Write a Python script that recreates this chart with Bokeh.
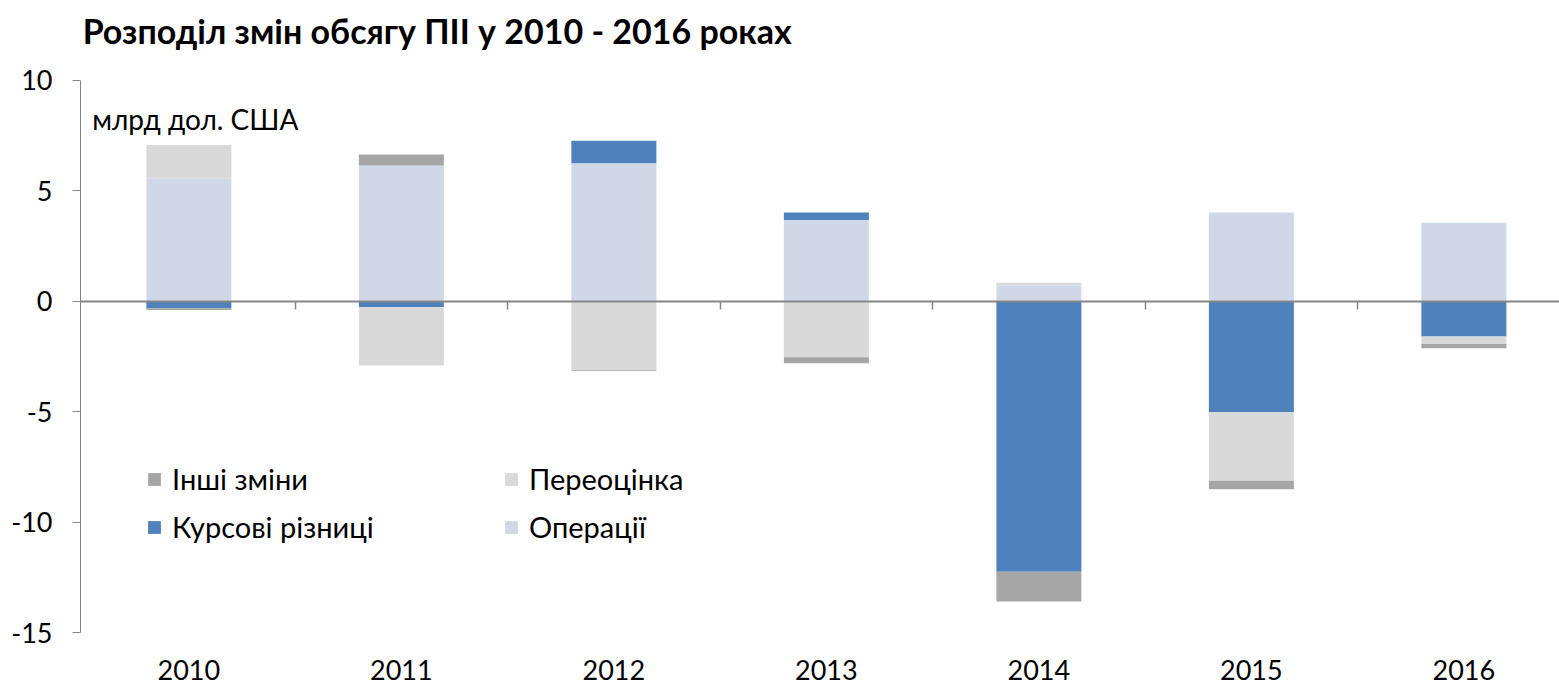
import numpy as np
from bokeh.plotting import figure
from bokeh.models import (Range1d, FixedTicker, LinearAxis, Legend, LegendItem,
                          Label, ColumnDataSource)
from bokeh.embed import file_html
from bokeh.resources import INLINE

# ---- data ----
years = ["2010", "2011", "2012", "2013", "2014", "2015", "2016"]
operations = [5.55, 6.15, 6.25, 3.68, 0.72, 4.02, 3.56]
fx_diff = [-0.32, -0.27, 1.02, 0.34, -12.25, -5.03, -1.60]
revaluation = [1.53, -2.64, -3.12, -2.54, 0.12, -3.10, -0.33]
other = [-0.07, 0.50, -0.04, -0.27, -1.35, -0.38, -0.20]

series_names = ["Операції", "Курсові різниці", "Переоцінка", "Інші зміни"]
series_values = [operations, fx_diff, revaluation, other]
colors = ["#D0D8E8", "#4F81BD", "#D9D9D9", "#A6A6A6"]
y_ticks = [-15, -10, -5, 0, 5, 10]
title_text = "Розподіл змін обсягу ПІІ у 2010 - 2016 роках"
unit_text = "млрд дол. США"

FONT = "Lato"
AXIS_COLOR = "#868686"

x = np.arange(len(years))

# frame spans the full canvas height down to the -15 line; the axis itself is
# bounded to [-15, 10] so the area above 10 holds the title.
p = figure(width=1559, height=685, output_backend="svg", toolbar_location=None,
           x_range=Range1d(-0.51, 6.45), y_range=Range1d(-15, 13.62),
           x_axis_location=None, y_axis_location=None,
           min_border_left=80, min_border_right=0, min_border_top=0,
           min_border_bottom=53)
p.outline_line_color = None
p.grid.visible = False

# stacked bars (positive and negative stacks separately)
pos_base = np.zeros(len(years))
neg_base = np.zeros(len(years))
renderers = {}
for name, vals, col in zip(series_names, series_values, colors):
    v = np.array(vals, dtype=float)
    bottom = np.where(v >= 0, pos_base, neg_base)
    top = bottom + v
    pos_base = np.where(v >= 0, top, pos_base)
    neg_base = np.where(v < 0, top, neg_base)
    src = ColumnDataSource(dict(x=x, top=top, bottom=bottom))
    r = p.vbar(x="x", top="top", bottom="bottom", width=0.4, source=src,
               fill_color=col, line_color=None)
    renderers[name] = r

# y axis
yaxis = LinearAxis(ticker=FixedTicker(ticks=y_ticks), bounds=(min(y_ticks), max(y_ticks)))
yaxis.major_label_overrides = {t: str(t) for t in y_ticks}
yaxis.axis_line_color = AXIS_COLOR
yaxis.major_tick_line_color = AXIS_COLOR
yaxis.major_tick_out = 8
yaxis.major_tick_in = 0
yaxis.minor_tick_line_color = None
yaxis.major_label_text_font = FONT
yaxis.major_label_text_font_size = "27px"
yaxis.major_label_text_color = "black"
yaxis.major_label_standoff = 20
p.add_layout(yaxis, "left")

# zero-line category axis (ticks between categories)
zaxis = LinearAxis(ticker=FixedTicker(ticks=list(x[:-1] + 0.5)), fixed_location=0)
zaxis.axis_line_color = AXIS_COLOR
zaxis.axis_line_width = 2
zaxis.major_tick_line_color = AXIS_COLOR
zaxis.major_tick_line_width = 1.5
zaxis.major_tick_out = 8
zaxis.major_tick_in = 0
zaxis.minor_tick_line_color = None
zaxis.major_label_text_font_size = "0px"
zaxis.major_label_text_alpha = 0
p.add_layout(zaxis, "below")

# category labels at the bottom
laxis = LinearAxis(ticker=FixedTicker(ticks=list(x)))
laxis.major_label_overrides = {int(i): y for i, y in zip(x, years)}
laxis.axis_line_color = None
laxis.major_tick_line_color = None
laxis.minor_tick_line_color = None
laxis.major_tick_out = 0
laxis.major_tick_in = 0
laxis.major_label_text_font = FONT
laxis.major_label_text_font_size = "27px"
laxis.major_label_text_color = "black"
laxis.major_label_standoff = 27
p.add_layout(laxis, "below")

# title
p.add_layout(Label(x=-0.50, y=12.26, text=title_text, text_font=FONT,
                   text_font_size="34px", text_font_style="bold",
                   text_baseline="middle", text_color="black"))

# unit label
p.add_layout(Label(x=-0.455, y=8.27, text=unit_text, text_font=FONT,
                   text_font_size="28px", text_baseline="middle",
                   text_color="black"))

# legends (two columns)
def make_legend(names, loc):
    lg = Legend(items=[LegendItem(label=n, renderers=[renderers[n]]) for n in names],
                location=loc, orientation="vertical")
    lg.glyph_width = 16
    lg.glyph_height = 16
    lg.label_standoff = 10
    lg.spacing = 13
    lg.padding = 0
    lg.margin = 0
    lg.border_line_color = None
    lg.background_fill_alpha = 0
    lg.label_text_font = FONT
    lg.label_text_font_size = "29px"
    lg.label_text_color = "black"
    lg.label_text_baseline = "middle"
    return lg

p.add_layout(make_legend(["Інші зміни", "Курсові різниці"], (66, 88)))
p.add_layout(make_legend(["Переоцінка", "Операції"], (423, 88)))

open("out.html", "w").write(file_html(p, INLINE))
